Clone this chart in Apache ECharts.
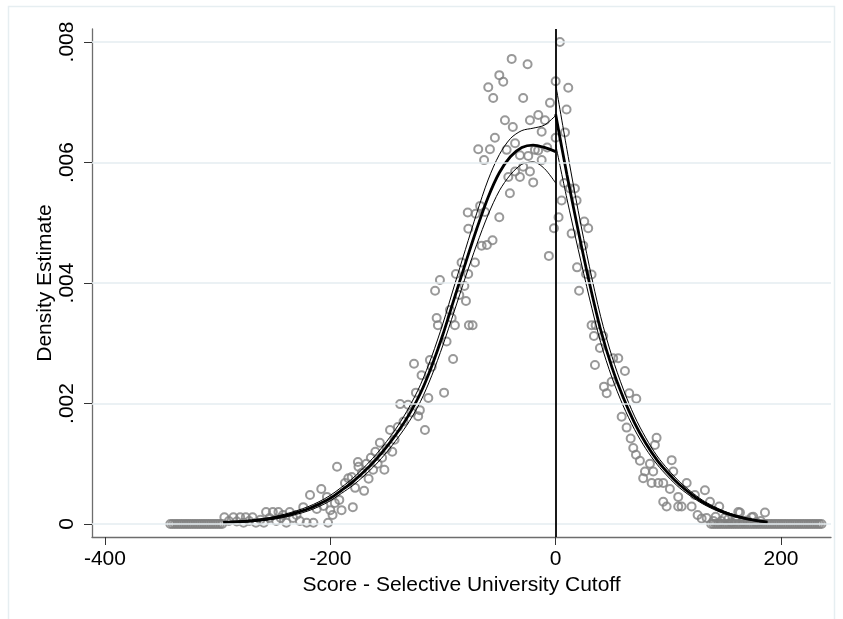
<!DOCTYPE html>
<html>
<head>
<meta charset="utf-8">
<script src="https://cdn.jsdelivr.net/npm/echarts@6/dist/echarts.min.js"></script>
<style>html,body{margin:0;padding:0;background:#fff}#chart{width:843px;height:619px}</style>
</head>
<body>
<div id="chart"></div>
<script>
// ---- tick labels ----
const xTickValues = [-400, -200, 0, 200];
const xTickLabels = ['-400', '-200', '0', '200'];
const yTickValues = [0, 0.002, 0.004, 0.006, 0.008];
const yTickLabels = ['0', '.002', '.004', '.006', '.008'];
const cutoff = 0;

// ---- binned density (bin centre, density in thousandths) ----
const binX = [
  -342,-340,-338,-336,-334,-332,-330,-328,-326,-324,
  -322,-320,-318,-316,-314,-312,-310,-308,-306,-304,
  -302,-300,-298,-296,
  -294,-290,-286,-283,-280,-277,-275,-272,-269,-266,
  -262,-259,-257,-254,-251,-248,-246,-244,-242,-239,
  -236,-233,-230,-227,-224,-221,-218,-215,-212,-208,
  -206,-203,-202,-200,-198,-196,-194,-192,-190,-187,
  -184,-181,-180,-178,-175.5,-175,-172,-170,-168,-166,
  -164,-162,-160,-158,-156,-154,-152,-150,-147,-145,
  -143,-140,-138,-135,-131,-128,-125.7,-124,-122,-120.5,
  -119,-116,-113,-111.6,-110,-107,-105.6,-104.5,-102.7,-99,
  -96.8,-93.8,-92.3,-91,-89.4,-88.5,-85.5,-83.5,-81,-79.6,
  -78,-77.6,-77.5,-77,-73.7,-71.6,-71,-68.7,-67,-65.7,
  -63.5,-62.7,-61,-59.8,-58.3,-56,-55.4,-53.9,-50,-50,
  -46.5,-45,-43.5,-42,-40.6,-39,-38,-36,-36,-31.7,
  -31.7,-28.8,-28.8,-24.9,-24.3,-22.8,-22.8,-19.9,-18.4,-15.5,
  -15.4,-12.4,-12.4,-9.5,-7.5,-6,-5,-1.5,0,0,
  2.6,3.8,5.3,7.6,8.3,9.7,11.2,12.7,14.2,17.1,
  18.6,19,20.8,24.5,25.4,27,28.9,31.9,31.9,34,
  34.9,35.5,39.3,42.2,42.9,45.3,49.7,51.1,55.6,58.6,
  61.5,63,65.3,66.6,68.9,71.3,71.6,74.8,77.7,79.3,
  83.7,85.2,86.6,88.1,89.6,91.1,95.5,95.5,98.5,101.4,
  103,104.4,108.8,108.8,111.8,116.3,120.7,123.6,126,129.6,
  132.5,134,137,140,142,145.2,147,150,153.2,156,
  160,162.1,163.6,166,170,174,175.4,178,182,185.8,
  138,140,142,144,146,148,150,152,154,156,
  158,160,162,164,166,168,170,172,174,176,
  178,180,182,184,186,188,190,192,194,196,
  198,200,202,204,206,208,210,212,214,216,
  218,220,222,224,226,228,230,232,234,236
];
const binDensityThousandths = [
  0,0,0,0,0,0,0,0,0,0,
  0,0,0,0,0,0,0,0,0,0,
  0,0,0,0,
  0.11,0.05,0.11,0.04,0.11,0.02,0.11,0.05,0.11,0.02,
  0.07,0.02,0.2,0.1,0.2,0.05,0.2,0.1,0.15,0.02,
  0.2,0.1,0.15,0.05,0.28,0.02,0.48,0.02,0.25,0.58,
  0.3,0.45,0.02,0.23,0.15,0.35,0.95,0.4,0.23,0.68,
  0.76,0.78,0.28,0.6,1.03,0.95,0.85,0.55,1.0,0.75,
  1.1,0.9,1.2,1.0,1.35,1.1,0.9,1.25,1.56,1.2,
  1.4,1.61,1.99,1.7,1.98,1.85,2.66,2.18,1.79,1.89,
  2.47,1.56,2.09,2.72,2.61,3.87,3.42,3.3,4.05,2.18,
  3.03,3.55,3.42,2.74,3.3,4.15,3.8,4.34,3.95,3.7,
  5.17,4.15,4.9,3.3,3.3,4.34,5.15,6.22,5.28,4.62,
  6.04,5.18,4.63,7.25,6.22,4.71,7.07,6.41,7.45,5.09,
  7.34,6.7,6.21,5.76,5.49,7.72,6.59,6.32,5.85,6.12,
  5.76,7.07,5.93,7.63,6.11,6.7,5.85,5.67,6.21,6.2,
  6.79,6.51,6.04,6.7,6.25,4.45,6.99,4.91,7.35,6.41,
  5.09,8.0,5.37,5.66,6.5,6.88,7.24,5.57,4.82,5.57,
  5.37,4.26,3.87,4.62,5.02,4.15,4.91,4.14,3.3,3.12,
  2.64,3.3,2.92,3.12,2.28,2.17,2.36,2.75,2.75,1.78,
  2.54,1.6,2.17,1.42,1.26,1.15,2.08,1.05,0.76,0.87,
  1.0,0.68,0.87,1.31,1.43,0.68,0.68,0.37,0.29,0.58,
  1.06,0.87,0.45,0.29,0.29,0.68,0.29,0.48,0.15,0.09,
  0.56,0.1,0.37,0.05,0.12,0.29,0.05,0.1,0.08,0.03,
  0.05,0.2,0.19,0.04,0.06,0.11,0.12,0.03,0.05,0.19,
  0,0,0,0,0,0,0,0,0,0,
  0,0,0,0,0,0,0,0,0,0,
  0,0,0,0,0,0,0,0,0,0,
  0,0,0,0,0,0,0,0,0,0,
  0,0,0,0,0,0,0,0,0,0
];

// ---- fitted density left of cutoff (thousandths) ----
const leftFitX  = [-295,-280,-270,-260,-250,-240,-230,-220,-210,-200,-190,-180,-170,-160,-150,-140,-130,-120,-110,-100,-90,-80,-70,-60,-50,-40,-30,-20,-10,0];
const leftFit   = [0.025,0.038,0.052,0.072,0.1,0.14,0.19,0.25,0.33,0.43,0.56,0.7,0.87,1.06,1.28,1.53,1.82,2.17,2.62,3.15,3.74,4.33,4.9,5.42,5.83,6.1,6.25,6.29,6.25,6.18];
const leftUpper = [0.037,0.052,0.067,0.09,0.12,0.165,0.22,0.285,0.37,0.475,0.61,0.76,0.94,1.14,1.37,1.63,1.94,2.31,2.78,3.33,3.95,4.56,5.16,5.71,6.13,6.4,6.53,6.57,6.62,6.78];
const leftLower = [0.013,0.024,0.037,0.054,0.08,0.115,0.16,0.215,0.29,0.385,0.51,0.64,0.8,0.98,1.19,1.43,1.7,2.03,2.46,2.97,3.53,4.1,4.64,5.13,5.53,5.8,5.97,6.01,5.9,5.66];
// ---- fitted density right of cutoff (thousandths) ----
const rightFitX  = [0,10,20,30,40,50,60,70,80,90,100,110,120,130,140,150,160,170,180,188];
const rightFit   = [6.8,5.8,4.87,4.0,3.22,2.6,2.1,1.68,1.34,1.06,0.84,0.65,0.5,0.37,0.27,0.19,0.13,0.085,0.05,0.03];
const rightUpper = [7.3,6.22,5.2,4.27,3.44,2.78,2.24,1.79,1.43,1.13,0.9,0.7,0.54,0.4,0.295,0.21,0.145,0.095,0.058,0.037];
const rightLower = [6.3,5.4,4.56,3.75,3.01,2.43,1.96,1.57,1.25,0.99,0.78,0.6,0.46,0.34,0.245,0.17,0.115,0.075,0.042,0.023];

const FONT = '"Liberation Sans", Arial, sans-serif';
const pairs = (xs, ys) => xs.map((x, i) => [x, ys[i] / 1000]);
const pick = (vals, labels, v) => {
  let best = 0;
  vals.forEach((t, i) => { if (Math.abs(t - v) < Math.abs(vals[best] - v)) best = i; });
  return labels[best];
};

function fitLine(name, xs, ys, width) {
  return {
    name, type: 'line', data: pairs(xs, ys), showSymbol: false, symbol: 'none',
    smooth: 0.3, z: 3, silent: true,
    lineStyle: { color: '#000', width: width }
  };
}

const chart = echarts.init(document.getElementById('chart'), null, { renderer: 'canvas' });
chart.setOption({
  animation: false,
  backgroundColor: '#ffffff',
  graphic: [{
    type: 'rect', silent: true, z: -10,
    shape: { x: 8.5, y: 6.5, width: 826, height: 640 },
    style: { fill: 'none', stroke: '#e6eef1', lineWidth: 1.5 }
  }],
  grid: { left: 92, right: 12, top: 29, bottom: 82, containLabel: false },
  xAxis: {
    type: 'value', min: -411.5, max: 244.4,
    name: 'Score - Selective University Cutoff', nameLocation: 'middle', nameGap: 38, nameMoveOverlap: false,
    nameTextStyle: { fontFamily: FONT, fontSize: 21, color: '#000' },
    axisLine: { show: true, onZero: false, lineStyle: { color: '#6d6d6d', width: 1.3 } },
    axisTick: { show: true, length: 8, customValues: xTickValues, lineStyle: { color: '#333', width: 1 } },
    axisLabel: { customValues: xTickValues, margin: 12, fontFamily: FONT, fontSize: 21, color: '#000',
      formatter: v => pick(xTickValues, xTickLabels, v) },
    splitLine: { show: false }
  },
  yAxis: {
    type: 'value', min: -0.0002158, max: 0.008216,
    name: 'Density Estimate', nameLocation: 'middle', nameGap: 36, nameMoveOverlap: false,
    nameTextStyle: { fontFamily: FONT, fontSize: 21, color: '#000' },
    axisLine: { show: true, onZero: false, lineStyle: { color: '#6d6d6d', width: 1.3 } },
    axisTick: { show: true, length: 8, customValues: yTickValues, lineStyle: { color: '#333', width: 1 } },
    axisLabel: { customValues: yTickValues, rotate: 90, margin: 14, fontFamily: FONT, fontSize: 21, color: '#000',
      formatter: v => pick(yTickValues, yTickLabels, v) },
    splitLine: { show: false }
  },
  series: [
    {
      name: 'bins', type: 'scatter', data: pairs(binX, binDensityThousandths), z: 2, silent: true,
      symbol: 'circle', symbolSize: 8,
      itemStyle: { color: 'rgba(0,0,0,0)', borderColor: '#7f7f7f', borderWidth: 2 },
      markLine: {
        silent: true, symbol: ['none', 'none'], label: { show: false }, precision: 10,
        lineStyle: { color: '#e4edf0', width: 1.6, type: 'solid' },
        data: yTickValues.map(v => ({ yAxis: v }))
      }
    },
    fitLine('leftUpper', leftFitX, leftUpper, 1),
    fitLine('leftFit', leftFitX, leftFit, 2.8),
    fitLine('leftLower', leftFitX, leftLower, 1),
    fitLine('rightUpper', rightFitX, rightUpper, 1),
    fitLine('rightFit', rightFitX, rightFit, 2.8),
    fitLine('rightLower', rightFitX, rightLower, 1),
    {
      name: 'cutoff', type: 'line', data: [], z: 4, silent: true,
      markLine: {
        silent: true, symbol: ['none', 'none'], label: { show: false }, precision: 10,
        lineStyle: { color: '#000', width: 1.8, type: 'solid' },
        data: [{ xAxis: cutoff }]
      }
    }
  ]
});
</script>
</body>
</html>
